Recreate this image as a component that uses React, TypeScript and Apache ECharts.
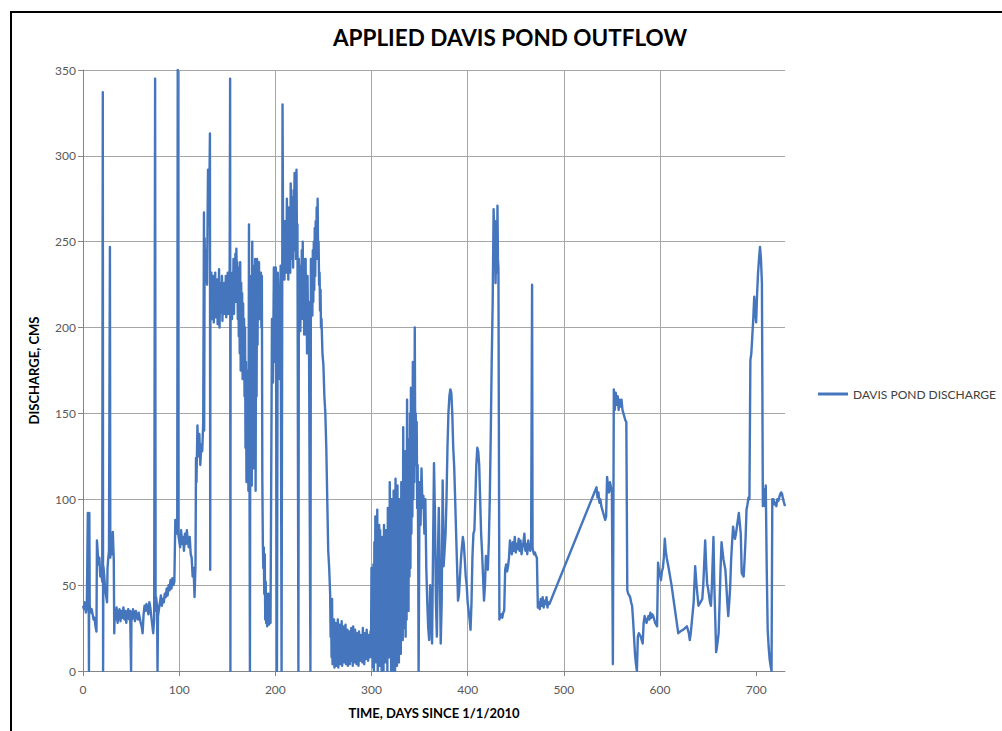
import React, { useEffect, useRef } from "react";
import * as echarts from "echarts";

const TITLE = "APPLIED DAVIS POND OUTFLOW";
const SERIES_NAME = "DAVIS POND DISCHARGE";
const X_NAME = "TIME, DAYS SINCE 1/1/2010";
const Y_NAME = "DISCHARGE, CMS";
const X_TICKS = [0, 100, 200, 300, 400, 500, 600, 700];

// [day, discharge cms]
const winter2010: number[][] = [
  [0, 38], [1, 36], [2, 40], [3, 34], [4, 37], [5, 92], [5.8, 60], [6.2, 0], [6.6, 92], [7, 38], [8, 34], [9, 36],
  [10, 33], [11, 30], [12, 31], [13, 26], [14, 23], [14.5, 76], [15, 72], [16, 62], [17, 66], [18, 55], [19, 58],
  [20, 52], [20.6, 337], [20.9, 0], [21.2, 61], [22, 56], [23, 48], [24, 44], [25, 40], [25.5, 60], [26, 64],
  [27, 70], [28, 247], [28.4, 66], [29, 74], [30, 68], [31, 81], [32, 65], [32.5, 22], [33, 35], [34, 30],
  [35, 37], [36, 28], [37, 34], [38, 36], [39, 29], [40, 35], [41, 31], [42, 37], [43, 30], [44, 35], [45, 28],
  [46, 34], [47, 36], [48, 30], [49, 35], [50, 0], [50.4, 34], [51, 30], [52, 36], [53, 33], [54, 29], [55, 35],
  [56, 32], [57, 30], [58, 34], [59, 31], [60, 28], [61, 26], [62, 22], [63, 33], [64, 38], [65, 35], [66, 39],
  [67, 36], [68, 33], [69, 40], [70, 37], [71, 32], [72, 27], [73, 22], [74, 30], [75, 345], [75.5, 35],
  [76, 43], [77, 38], [77.5, 0], [78, 32], [79, 36], [80, 40], [81, 44], [82, 38], [83, 42], [84, 40], [85, 45],
  [86, 43], [87, 48], [88, 44], [89, 50], [90, 47], [91, 53], [92, 48], [93, 54], [94, 50], [95, 52], [96, 88],
  [97, 80], [98, 84],
];

const spring2010: number[][] = [
  [98.5, 350], [99, 80], [100, 76], [101, 72], [102, 82], [103, 74], [104, 78], [105, 70], [106, 80], [107, 74],
  [108, 82], [109, 76], [110, 72], [111, 78], [112, 68], [113, 66], [114, 55], [115, 60], [116, 43], [117, 62],
  [117.5, 124], [118, 110], [119, 143], [120, 125], [121, 138], [122, 120], [123, 132], [124, 128], [125, 145],
  [125.8, 267], [126, 140], [126.5, 252], [127, 230], [128, 245], [129, 225], [130, 292], [131, 260], [132, 313],
  [132.3, 59], [132.5, 228], [133, 210], [133.5, 232], [134, 205], [134.5, 222], [135, 212], [135.5, 230],
  [136, 203], [136.5, 225], [137, 210], [137.5, 232], [138, 206], [138.5, 220], [139, 214], [139.5, 228],
  [140, 202], [140.5, 224], [141, 212], [141.5, 234], [142, 200], [142.5, 218], [143, 209], [143.5, 226],
  [144, 212], [144.5, 230], [145, 204], [145.5, 222], [146, 210], [146.5, 226], [147, 208], [147.5, 224],
  [148, 214], [148.5, 230], [149, 206], [149.5, 225], [150, 212], [150.5, 232], [151, 208], [151.5, 226],
  [152, 215], [152.5, 235], [153, 345], [153.3, 0], [153.5, 230], [154, 210], [154.5, 228], [155, 205],
  [155.5, 232], [156, 215], [156.5, 240], [157, 208], [157.5, 236], [158, 220], [158.5, 243], [159, 215],
  [159.5, 246], [160, 225], [160.5, 238], [161, 205], [161.5, 235], [162, 195], [162.5, 230], [163, 185],
  [163.5, 238], [164, 175], [164.5, 226], [165, 200], [165.5, 220], [166, 170], [166.5, 214], [167, 185],
  [167.5, 205], [168, 160], [168.5, 200], [169, 130], [169.5, 180], [170, 110], [170.5, 150], [171, 120],
  [171.5, 175], [172, 105], [172.6, 260], [173.6, 0], [174, 175], [174.5, 120], [175, 230], [175.5, 108],
  [176, 250], [176.5, 140], [177, 230], [177.5, 118], [178, 236], [178.5, 150], [179, 240], [179.5, 105],
  [180, 232], [180.5, 160], [181, 240], [181.5, 190], [182, 236], [182.5, 212], [183, 238], [183.5, 205],
  [184, 228], [184.5, 215], [185, 232], [185.5, 200], [186, 230], [186.5, 110], [187, 75], [187.5, 60],
  [188, 72], [188.5, 45], [189, 68], [189.5, 30], [190, 52], [190.5, 28], [191, 45], [191.5, 26], [192, 42],
  [192.5, 28], [193, 45], [193.5, 27], [194, 30], [195, 28], [196.5, 205], [197.5, 168], [198.5, 235],
  [199.5, 180], [200.5, 235], [201.7, 0], [202.5, 232], [203.5, 210], [204.5, 170], [205.5, 236], [206.5, 0],
  [207.5, 330], [208, 262], [208.5, 235], [209, 250], [209.5, 228], [210, 262], [210.5, 238], [211, 255],
  [211.5, 232], [212, 275], [212.5, 240], [213, 262], [213.5, 228], [214, 270], [214.5, 245], [215, 258],
  [215.5, 232], [216, 284], [216.5, 250], [217, 276], [217.5, 240], [218, 266], [218.5, 235], [219, 280],
  [219.5, 245], [220, 290], [220.5, 255], [221, 275], [221.5, 240], [222, 292], [222.5, 250], [223, 260],
  [224, 0], [224.5, 240], [225, 210], [225.5, 236], [226, 198], [226.5, 230], [227, 205], [227.5, 245],
  [228, 215], [228.5, 250], [229, 205], [229.5, 240], [230, 196], [230.5, 232], [231, 210], [231.5, 240],
  [232, 196], [232.5, 222], [233, 185], [233.5, 230], [234, 200], [234.5, 215], [235, 195], [236.5, 0],
  [237, 240], [237.5, 210], [238, 232], [238.5, 207], [239, 245], [239.5, 215], [240, 250], [240.5, 222],
  [241, 258], [241.5, 230], [242, 262], [242.5, 240], [243, 270], [243.5, 248], [244, 275], [244.5, 240],
  [245, 250], [245.5, 225], [246, 232], [246.5, 210], [247, 222], [247.5, 200], [248, 205], [249, 185],
  [250, 178], [251, 160], [252, 150], [253, 130], [254, 100], [255, 70], [256, 60], [257, 45],
];

const autumn2010: number[][] = [
  [257.5, 20], [258, 35], [258.5, 8], [259, 42], [259.5, 4], [260, 28], [260.5, 6], [261, 30], [261.5, 2],
  [262, 26], [262.5, 9], [263, 28], [263.5, 3], [264, 24], [264.5, 10], [265, 30], [265.5, 2], [266, 22],
  [266.5, 7], [267, 27], [267.5, 4], [268, 20], [268.5, 9], [269, 29], [269.5, 3], [270, 22], [270.5, 11],
  [271, 26], [271.5, 5], [272, 18], [272.5, 8], [273, 27], [273.5, 4], [274, 21], [274.5, 10], [275, 24],
  [275.5, 3], [276, 19], [276.5, 9], [277, 23], [277.5, 4], [278, 17], [278.5, 12], [279, 25], [279.5, 6],
  [280, 20], [280.5, 3], [281, 26], [281.5, 10], [282, 18], [282.5, 5], [283, 24], [283.5, 12], [284, 19],
  [284.5, 4], [285, 22], [285.5, 9], [286, 16], [286.5, 3], [287, 23], [287.5, 11], [288, 18], [288.5, 6],
  [289, 21], [289.5, 13], [290, 17], [290.5, 5], [291, 25], [291.5, 10], [292, 19], [292.5, 4], [293, 22],
  [293.5, 12], [294, 18], [294.5, 7], [295, 24], [295.5, 11], [296, 17], [296.5, 6], [297, 21], [297.5, 13],
  [298, 19], [298.5, 8], [299, 23], [299.5, 12],
  [300, 60], [300.5, 8], [301, 45], [301.5, 2], [302, 62], [302.5, 0], [303, 75], [303.5, 15], [304, 90],
  [304.5, 5], [305, 70], [305.5, 30], [306, 94], [306.5, 0], [307, 60], [307.5, 10], [308, 85], [308.5, 3],
  [309, 82], [309.5, 20], [310, 65], [310.5, 0], [311, 78], [311.5, 12], [312, 55], [312.5, 0], [313, 85],
  [313.5, 25], [314, 70], [314.5, 5], [315, 82], [315.5, 10], [316, 60], [316.5, 0], [317, 95], [317.5, 30],
  [318, 75], [318.5, 8], [319, 110], [319.5, 15], [320, 90], [320.5, 0], [321, 100], [321.5, 20], [322, 80],
  [322.5, 0], [323, 105], [323.5, 35], [324, 90], [324.5, 0], [325, 112], [325.5, 25], [326, 95], [326.5, 3],
  [327, 108], [327.5, 40], [328, 85], [328.5, 5], [329, 100], [329.5, 20], [330, 90], [330.5, 10], [331, 110],
  [331.5, 22], [332, 95], [332.5, 18], [333, 142], [333.5, 40], [334, 100], [334.5, 25], [335, 128],
  [335.5, 20], [336, 110], [336.5, 30], [337, 158], [337.5, 45], [338, 120], [338.5, 35], [339, 135],
  [339.5, 55], [340, 150], [340.5, 60], [341, 165], [341.5, 80], [342, 140], [342.5, 90], [343, 180],
  [343.5, 100], [344, 160], [344.5, 110], [345, 200], [345.5, 130], [346, 150], [346.5, 120], [347, 145],
  [347.5, 95], [348, 120], [348.5, 80], [349, 0],
];

const winter2011: number[][] = [
  [350, 110], [351, 85], [352, 118], [353, 95], [354, 102], [355, 80], [356, 100], [357, 60], [358, 40],
  [359, 25], [360, 18], [361, 50], [362, 30], [363, 16], [364, 70], [365, 121], [366, 90], [367, 40], [368, 20],
  [369, 65], [370, 95], [371, 60], [372, 16], [373, 40], [374, 111], [375, 61], [376, 70], [377, 80], [378, 100],
  [379, 130], [380, 150], [381, 160], [382, 164], [383, 162], [384, 150], [385, 130], [386, 119], [387, 100],
  [388, 80], [389, 61], [390, 41], [391, 45], [392, 55], [393, 65], [394, 72], [395, 78], [396, 74], [397, 65],
  [398, 55], [399, 50], [400, 40], [401, 35], [402, 30], [403, 24], [404, 40], [405, 67], [406, 80], [407, 82],
  [408, 100], [409, 120], [410, 130], [411, 128], [412, 120], [413, 100], [414, 80], [415, 69], [416, 55],
  [417, 41], [418, 50], [419, 67], [420, 62], [421, 59], [422, 75], [423, 100], [424, 137], [425, 180],
  [426, 214], [427, 269], [428, 240], [428.5, 262], [429, 226], [430, 258], [430.5, 232], [431, 271],
  [431.5, 240], [432, 235], [433, 30],
];

const spring2011: number[][] = [
  [434, 32], [435, 33], [436, 31], [437, 34], [438, 35], [439, 59], [440, 62], [441, 58], [442, 61], [443, 66],
  [444, 76], [445, 72], [446, 68], [447, 75], [448, 70], [449, 78], [450, 69], [451, 74], [452, 71], [453, 77],
  [454, 70], [455, 76], [456, 68], [457, 72], [458, 75], [459, 80], [460, 70], [461, 74], [462, 68], [463, 76],
  [464, 72], [465, 70], [466, 74], [467, 225], [467.5, 72], [468, 70], [469, 68], [470, 69], [471, 67],
  [472, 66], [473, 37], [474, 40], [475, 36], [476, 42], [477, 38], [478, 43], [479, 37], [480, 41], [481, 39],
  [482, 43], [483, 37], [484, 40], [485, 39],
];

const summer2011: number[][] = [
  [534, 107], [535, 101], [536, 104], [537, 98], [538, 100], [539, 96], [540, 94], [541, 92], [542, 90],
  [543, 88], [544, 90], [545, 113], [546, 107], [547, 104], [548, 110], [549, 107], [550, 104], [551, 4],
  [552, 164], [553, 152], [554, 162], [555, 155], [556, 160], [557, 152], [558, 158], [559, 154], [560, 158],
  [561, 152], [562, 150], [563, 148], [564, 146], [565, 145], [566, 47], [567, 45], [568, 44], [569, 43],
  [570, 40], [571, 38], [572, 30], [573, 20], [574, 10], [575, 4], [576, 0], [577, 20], [578, 22], [579, 21],
  [580, 20], [581, 18], [582, 16], [583, 28], [584, 32], [585, 30], [586, 28], [587, 30], [588, 32], [589, 30],
  [590, 34], [591, 31], [592, 33], [593, 32], [594, 30], [595, 28], [596, 27], [597, 26],
];

const autumn2011: number[][] = [
  [598, 63], [599, 58], [600, 56], [601, 53], [602, 58], [603, 60], [604, 66], [605, 77], [606, 70], [607, 66],
  [609, 60], [612, 50], [615, 38], [618, 26], [619, 22], [621, 23], [624, 24], [626, 25], [628, 26], [629, 24],
  [630, 22], [631, 18], [632, 22], [633, 28], [634, 34], [635, 40], [636.6, 61], [638, 50], [640, 38], [642, 40],
  [644, 42], [645, 50], [647, 76], [648, 62], [649, 51], [650, 48], [651, 44], [652, 40], [653, 38], [654, 50],
  [655.6, 78], [656.5, 50], [657.5, 30], [658.4, 11], [659.5, 15], [661, 22], [662, 40], [663, 60], [664, 75],
  [665, 70], [666, 65], [667, 62], [668, 59], [669, 50], [670, 40], [671, 32], [672, 40], [673, 49], [674, 65],
  [675, 75], [676, 84], [677, 80], [678, 77], [679, 80], [680, 84], [681, 88], [682, 92], [683, 86], [684, 80],
  [685, 57], [686, 56], [687, 55], [688, 65], [689, 77], [690, 94], [691, 97], [692, 101], [693, 100],
  [694, 181], [695, 185], [696, 195], [697, 205], [698, 218], [699, 210], [700, 203], [701, 220], [702, 232],
  [703, 240], [704, 247], [705, 240], [706, 226], [707, 96], [708, 106], [709, 96], [710, 108], [711, 60],
  [712, 24], [713, 14], [714, 7], [715, 3], [716, 0], [716.8, 100], [718, 100], [719, 97], [720, 98], [721, 96],
  [722, 100], [723, 99], [724, 101], [725, 103], [726, 104], [727, 103], [728, 100], [729, 98], [730, 96],
];

const FONT = "Lato, 'Open Sans', sans-serif";
const LINE_COLOR = "#4576BD";

export default function App() {
  const ref = useRef<HTMLDivElement>(null);
  useEffect(() => {
    if (!ref.current) return;
    const chart = echarts.init(ref.current, null, { renderer: "svg" });
    const data = [
      ...winter2010,
      ...spring2010,
      ...autumn2010,
      ...winter2011,
      ...spring2011,
      ...summer2011,
      ...autumn2011,
    ];
    chart.setOption({
      animation: false,
      backgroundColor: "#ffffff",
      textStyle: { fontFamily: FONT },
      graphic: [
        {
          type: "rect",
          shape: { x: 11, y: 12, width: 1200, height: 900 },
          style: { fill: "none", stroke: "#000000", lineWidth: 2 },
          silent: true,
        },
        {
          type: "text",
          x: 510,
          y: 37,
          style: {
            text: TITLE,
            align: "center",
            verticalAlign: "middle",
            fontFamily: FONT,
            fontWeight: "bold",
            fontSize: 22.5,
            fill: "#000000",
          },
        },
      ],
      legend: {
        left: 818,
        top: 388,
        padding: 0,
        itemWidth: 30,
        itemHeight: 3,
        itemGap: 10,
        textStyle: { color: "#404040", fontSize: 12, fontFamily: FONT },
        data: [{ name: SERIES_NAME, icon: "rect", itemStyle: { color: LINE_COLOR } }],
      },
      grid: { left: 83, right: 217, top: 70, bottom: 60, containLabel: false },
      xAxis: {
        type: "value",
        min: 0,
        max: 730,
        interval: 100,
        name: X_NAME,
        nameLocation: "middle",
        nameGap: 35,
        nameTextStyle: { fontWeight: "bold", fontSize: 13, color: "#000000", fontFamily: FONT },
        axisLine: { show: true, lineStyle: { color: "#868686", width: 1 } },
        axisTick: { show: true, length: 5, lineStyle: { color: "#868686" }, customValues: X_TICKS },
        axisLabel: { color: "#595959", fontSize: 12, margin: 12, customValues: X_TICKS },
        splitLine: { show: true, showMaxLine: false, lineStyle: { color: "#a6a6a6", width: 1 } },
      },
      yAxis: {
        type: "value",
        min: 0,
        max: 350,
        interval: 50,
        name: Y_NAME,
        nameLocation: "middle",
        nameGap: 43,
        nameTextStyle: { fontWeight: "bold", fontSize: 13, color: "#000000", fontFamily: FONT },
        axisLine: { show: true, lineStyle: { color: "#868686", width: 1 } },
        axisTick: { show: true, length: 5, lineStyle: { color: "#868686" } },
        axisLabel: { color: "#595959", fontSize: 12, margin: 7 },
        splitLine: { show: true, lineStyle: { color: "#a6a6a6", width: 1 } },
      },
      series: [
        {
          name: SERIES_NAME,
          type: "line",
          data,
          symbol: "none",
          showSymbol: false,
          clip: true,
          lineStyle: { color: LINE_COLOR, width: 2.4, join: "round" },
          itemStyle: { color: LINE_COLOR },
        },
      ],
    });
    return () => chart.dispose();
  }, []);
  return (
    <div
      ref={ref}
      style={{ position: "fixed", left: 0, top: 0, width: 1002, height: 731 }}
    />
  );
}
